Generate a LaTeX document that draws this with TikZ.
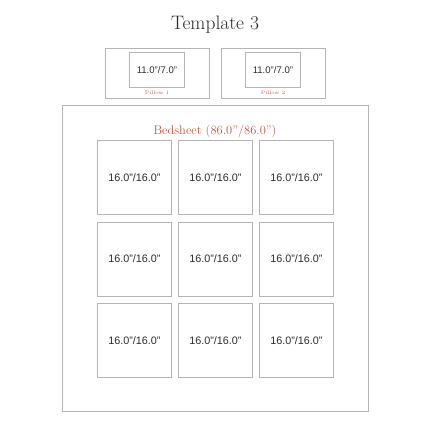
\documentclass[tikz,border=0pt]{standalone}
\usepackage{fontspec}
\setsansfont{Liberation Sans}
\definecolor{lgray}{HTML}{B4B4B4}
\definecolor{rtext}{HTML}{C8553D}
\definecolor{dtext}{HTML}{2A2A2A}
\begin{document}
\begin{tikzpicture}[x=1pt,y=-1pt,
  box/.style={draw=lgray,line width=0.9pt},
  sq/.style={box,minimum width=74pt,minimum height=74pt,inner sep=0pt,anchor=north west,font=\sffamily\fontsize{10.8}{12}\selectfont,text=dtext},
  pin/.style={box,minimum width=55pt,minimum height=35pt,inner sep=0pt,anchor=north west,font=\sffamily\fontsize{9.6}{11}\selectfont,text=dtext},
  plab/.style={text=rtext,font=\fontsize{5}{6}\selectfont,inner sep=0pt}]
\useasboundingbox (0,0) rectangle (430,430);
\node[text=dtext,font=\fontsize{19.5}{22}\selectfont,inner sep=0pt] (title) at (215,25) {Template 3};
% pillows
\node[box,minimum width=104pt,minimum height=50pt,inner sep=0pt,anchor=north west] (p1) at (105,48) {};
\node[pin] (p1in) at (129,52) {11.0"/7.0"};
\node[plab] (p1l) at (157,92.5) {Pillow 1};
\node[box,minimum width=104pt,minimum height=50pt,inner sep=0pt,anchor=north west] (p2) at (221,48) {};
\node[pin] (p2in) at (245,52) {11.0"/7.0"};
\node[plab] (p2l) at (273,92.5) {Pillow 2};
% bedsheet
\node[box,minimum width=306pt,minimum height=306pt,inner sep=0pt,anchor=north west] (bed) at (62,105) {};
\node[text=rtext,font=\fontsize{12.5}{14}\selectfont,inner sep=0pt] (bedl) at (215,131) {Bedsheet (86.0"/86.0")};
\foreach \r/\y in {1/140,2/221.5,3/303}{
  \foreach \c/\x in {1/97,2/178,3/259}{
    \node[sq] (s\r\c) at (\x,\y) {16.0"/16.0"};
  }
}
\end{tikzpicture}
\end{document}
